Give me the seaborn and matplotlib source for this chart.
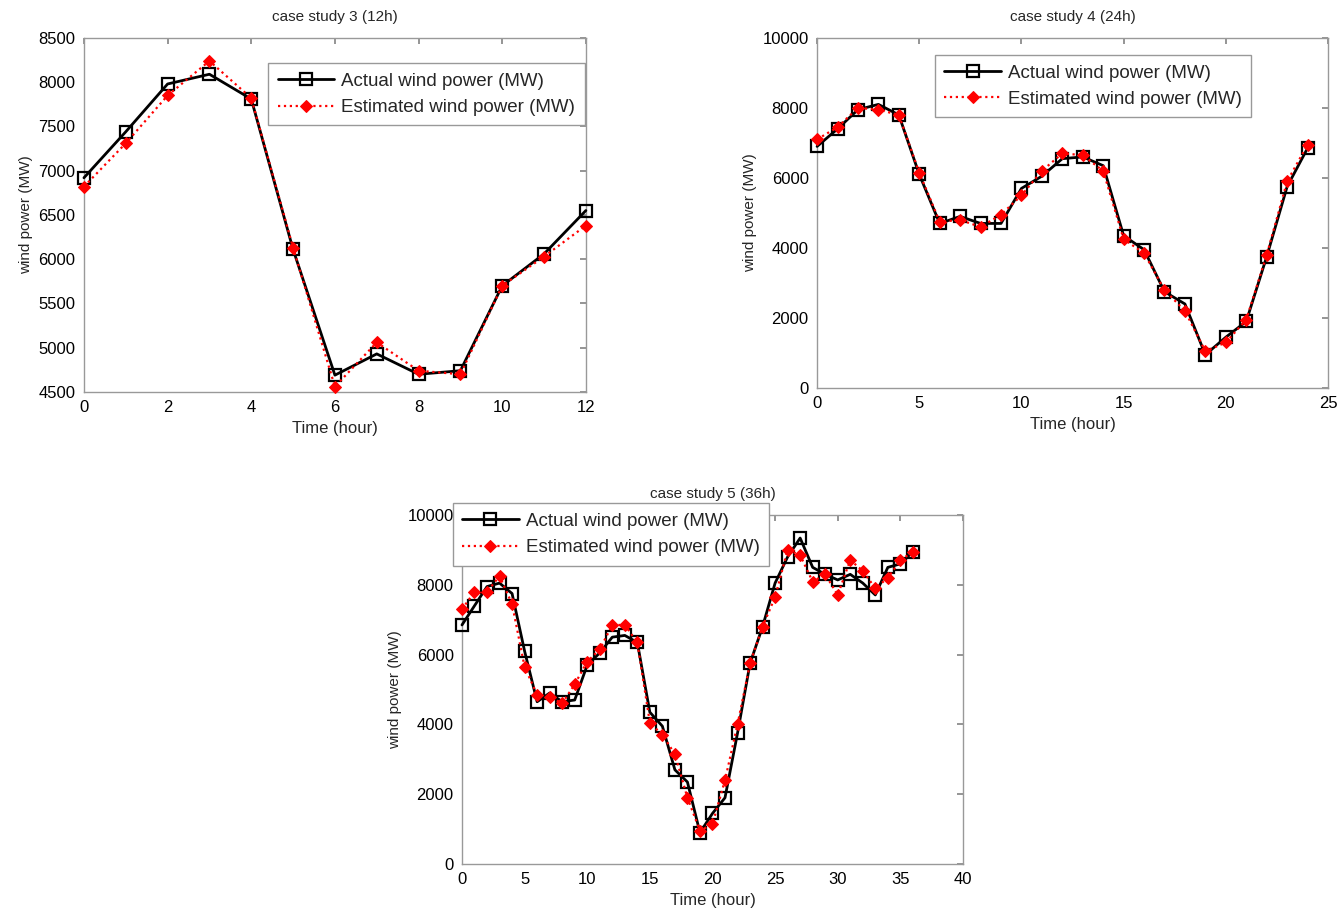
import matplotlib
matplotlib.use("Agg")
import matplotlib.pyplot as plt
import seaborn as sns
import numpy as np
import pandas as pd

# ---- data ----
hours3 = list(range(0, 13))
actual3 = [6920, 7440, 7980, 8090, 7810, 6110, 4690, 4930, 4700, 4740, 5700, 6060, 6550]
estim3 = [6820, 7310, 7850, 8240, 7820, 6130, 4560, 5060, 4740, 4700, 5700, 6030, 6380]

hours4 = list(range(0, 25))
actual4 = [6900, 7400, 7950, 8100, 7800, 6100, 4700, 4900, 4700, 4700, 5700, 6050, 6550,
           6600, 6350, 4350, 3950, 2750, 2400, 950, 1450, 1900, 3750, 5750, 6850]
estim4 = [7100, 7450, 8000, 7950, 7800, 6150, 4750, 4800, 4600, 4950, 5500, 6200, 6700,
          6650, 6200, 4250, 3850, 2800, 2200, 1050, 1300, 1950, 3800, 5900, 6950]

hours5 = list(range(0, 37))
actual5 = [6850, 7400, 7950, 8050, 7750, 6100, 4650, 4900, 4650, 4700, 5700, 6050, 6500,
           6550, 6350, 4350, 3950, 2700, 2350, 900, 1450, 1900, 3750, 5750, 6800, 8050,
           8800, 9340, 8500, 8300, 8140, 8300, 8050, 7710, 8500, 8600, 8950]
estim5 = [7300, 7800, 7800, 8250, 7450, 5650, 4850, 4800, 4600, 5150, 5800, 6150, 6850,
          6850, 6350, 4050, 3700, 3150, 1900, 950, 1150, 2400, 4000, 5750, 6800, 7650,
          9000, 8850, 8090, 8300, 7710, 8710, 8400, 7900, 8200, 8700, 8950]

titles = ["case study 3 (12h)", "case study 4 (24h)", "case study 5 (36h)"]
xlabel = "Time (hour)"
ylabel = "wind power (MW)"
label_actual = "Actual wind power (MW)"
label_estim = "Estimated wind power (MW)"

sns.set_theme(style="white")
plt.rcParams['font.family'] = ['Liberation Sans', 'DejaVu Sans']

fig = plt.figure(figsize=(13.41, 9.19), dpi=100)
ax1 = fig.add_axes([0.0626, 0.5735, 0.3743, 0.3852])
ax2 = fig.add_axes([0.6093, 0.5778, 0.3810, 0.3810])
ax3 = fig.add_axes([0.3445, 0.0598, 0.3736, 0.3798])

panels = [
    (ax1, hours3, actual3, estim3, (0, 12), np.arange(0, 13, 2), (4500, 8500), np.arange(4500, 8501, 500), (0.367, 0.929)),
    (ax2, hours4, actual4, estim4, (0, 25), np.arange(0, 26, 5), (0, 10000), np.arange(0, 10001, 2000), (0.231, 0.951)),
    (ax3, hours5, actual5, estim5, (0, 40), np.arange(0, 41, 5), (0, 10000), np.arange(0, 10001, 2000), (-0.018, 1.034)),
]

for i, (ax, hrs, act, est, xl, xt, yl, yt, legpos) in enumerate(panels):
    df = pd.DataFrame({"hour": hrs, "actual": act, "estimated": est})
    sns.lineplot(data=df, x="hour", y="actual", ax=ax, color="black", linewidth=2,
                 marker="s", markersize=9, markerfacecolor="none", markeredgecolor="black",
                 markeredgewidth=1.6, label=label_actual, clip_on=False, zorder=3)
    sns.lineplot(data=df, x="hour", y="estimated", ax=ax, color="red", linewidth=1.6,
                 linestyle=":", marker="D", markersize=6, markerfacecolor="red",
                 markeredgecolor="red", label=label_estim, clip_on=False, zorder=3)
    ax.set_xlim(*xl)
    ax.set_ylim(*yl)
    ax.set_xticks(xt)
    ax.set_yticks(yt)
    ax.set_title(titles[i], fontsize=11, pad=12)
    ax.set_xlabel(xlabel, fontsize=12, labelpad=4)
    ax.set_ylabel(ylabel, fontsize=11, labelpad=4)
    ax.tick_params(direction="in", length=4, top=True, right=True, labelsize=12,
                   colors="#888888", labelcolor="black", pad=6)
    for sp in ax.spines.values():
        sp.set_color("#999999")
        sp.set_linewidth(1.0)
    leg = ax.legend(loc="upper left", bbox_to_anchor=legpos, borderaxespad=0,
                    fontsize=13.5, frameon=True, fancybox=False, framealpha=1,
                    edgecolor="#999999", handlelength=3.0, borderpad=0.5,
                    labelspacing=0.5, handletextpad=0.4)
    leg.get_frame().set_linewidth(1.0)
    leg.set_zorder(5)

fig.savefig("out.png", dpi=100, facecolor="white")
